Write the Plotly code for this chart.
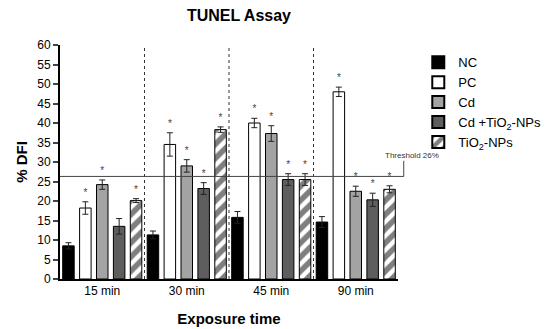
import plotly.graph_objects as go

groups = ["15 min", "30 min", "45 min", "90 min"]
series = ["NC", "PC", "Cd", "Cd +TiO<sub>2</sub>-NPs", "TiO<sub>2</sub>-NPs"]
nc = [8.5, 11.3, 15.8, 14.6]
pc = [18.2, 34.5, 40.0, 48.0]
cd = [24.2, 29.0, 37.3, 22.5]
cdti = [13.5, 23.2, 25.5, 20.3]
ti = [20.1, 38.3, 25.5, 23.0]
nc_err = [0.8, 1.0, 1.5, 1.4]
pc_err = [1.6, 3.0, 1.2, 1.2]
cd_err = [1.2, 1.6, 2.0, 1.3]
cdti_err = [2.0, 1.5, 1.5, 1.7]
ti_err = [0.5, 0.7, 1.5, 0.9]
# significance flags (1 = asterisk)
pc_sig = [1, 1, 1, 1]
cd_sig = [1, 1, 1, 1]
cdti_sig = [0, 1, 1, 1]
ti_sig = [1, 1, 1, 1]
threshold = 26.3

values = [nc, pc, cd, cdti, ti]
errs = [nc_err, pc_err, cd_err, cdti_err, ti_err]
sigs = [[0, 0, 0, 0], pc_sig, cd_sig, cdti_sig, ti_sig]
colors = ["#000000", "#ffffff", "#a3a3a3", "#5e5e5e", "#ffffff"]

xs = list(range(len(groups)))
fig = go.Figure()
for i, (name, v, e, c) in enumerate(zip(series, values, errs, colors)):
    marker = dict(color=c, line=dict(color="black", width=1))
    if i == 4:
        marker["pattern"] = dict(shape="/", fgcolor="black", bgcolor="white", size=10, solidity=0.55)
    fig.add_trace(go.Bar(
        x=xs, y=v, name=name, marker=marker,
        error_y=dict(type="data", array=e, color="#222", thickness=1, width=3),
    ))

# asterisks
sx, sy = [], []
for i in range(5):
    for g in xs:
        if sigs[i][g]:
            sx.append(g + (i - 2) * 0.2)
            sy.append(values[i][g] + errs[i][g] + 2.2)
fig.add_trace(go.Scatter(x=sx, y=sy, mode="text", text=["*"] * len(sx),
                         textfont=dict(size=10, color="#444"), showlegend=False,
                         hoverinfo="skip"))

shapes = []
for b in [0.5, 1.5, 2.5]:
    shapes.append(dict(type="line", xref="x", yref="y", x0=b, x1=b, y0=0, y1=60,
                       line=dict(color="#333", width=1, dash="dot")))
shapes.append(dict(type="line", xref="paper", yref="y", x0=0, x1=1.017, y0=threshold, y1=threshold,
                   line=dict(color="#444", width=1)))
shapes.append(dict(type="line", xref="paper", yref="y", x0=1.017, x1=1.017, y0=threshold, y1=threshold + 4,
                   line=dict(color="#444", width=1)))

fig.update_layout(
    width=550, height=329,
    margin=dict(l=52, r=143, t=37, b=56),
    paper_bgcolor="white", plot_bgcolor="white",
    barmode="group", bargap=0, bargroupgap=0.32,
    font=dict(family="Arial, Liberation Sans, sans-serif", color="black", size=11),
    title=dict(text="<b>TUNEL Assay</b>", x=0.42, xanchor="center", y=0.995, yanchor="top",
               font=dict(size=16)),
    shapes=shapes,
    annotations=[dict(text="Threshold 26%", xref="paper", yref="y", x=1.04, y=threshold + 5.3,
                      xanchor="center", showarrow=False, font=dict(size=8, color="#333"))],
    legend=dict(x=1.06, y=0.99, xanchor="left", yanchor="top", font=dict(size=13),
                bgcolor="rgba(0,0,0,0)", tracegroupgap=0, itemsizing="constant"),
    xaxis=dict(tickvals=xs, ticktext=groups, range=[-0.5, 3.5], showline=True, linecolor="black",
               linewidth=2, ticks="", showgrid=False, zeroline=False, tickfont=dict(size=12),
               title=dict(text="<b>Exposure time</b>", font=dict(size=15), standoff=16)),
    yaxis=dict(range=[0, 60], dtick=5, showline=True, linecolor="black", linewidth=2,
               ticks="outside", ticklen=5, tickwidth=2, showgrid=False, zeroline=False,
               tickfont=dict(size=12),
               title=dict(text="<b>% DFI</b>", font=dict(size=15), standoff=6)),
)
fig.write_html("out.html")
